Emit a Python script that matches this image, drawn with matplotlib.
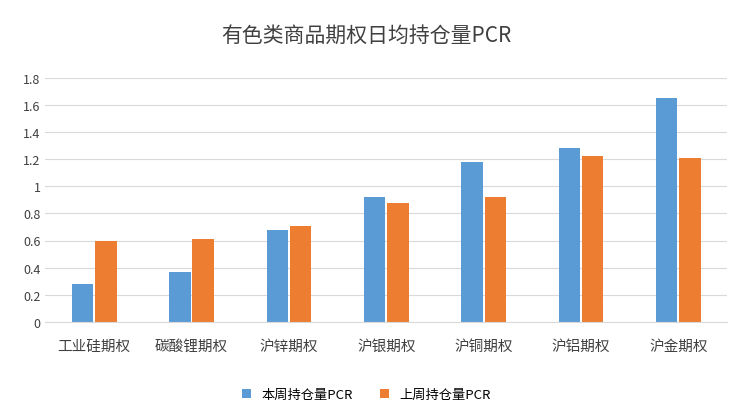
import matplotlib
matplotlib.use("Agg")
import matplotlib.pyplot as plt
import numpy as np

plt.rcParams["font.family"] = ["Noto Sans CJK SC", "DejaVu Sans"]

categories = ["工业硅期权", "碳酸锂期权", "沪锌期权", "沪银期权", "沪铜期权", "沪铝期权", "沪金期权"]
this_week = [0.28, 0.37, 0.68, 0.92, 1.18, 1.28, 1.65]
last_week = [0.60, 0.61, 0.71, 0.88, 0.92, 1.22, 1.21]
yticks = [0, 0.2, 0.4, 0.6, 0.8, 1, 1.2, 1.4, 1.6, 1.8]
ytick_labels = ["0", "0.2", "0.4", "0.6", "0.8", "1", "1.2", "1.4", "1.6", "1.8"]

fig = plt.figure(figsize=(7.33, 4.14), dpi=100)
ax = fig.add_axes([0.062, 0.22, 0.93, 0.59])
x = np.arange(len(categories))
w = 0.22
ax.bar(x - w/2 - 0.01, this_week, w, color="#5B9BD5", label="本周持仓量PCR")
ax.bar(x + w/2 + 0.01, last_week, w, color="#ED7D31", label="上周持仓量PCR")
ax.set_xlim(-0.5, len(categories) - 0.5)
ax.set_ylim(0, 1.8)
ax.set_yticks(yticks)
ax.set_yticklabels(ytick_labels, fontsize=9, color="#404040")
ax.set_xticks(x)
ax.set_xticklabels(categories, fontsize=10.5, color="#404040")
ax.tick_params(length=0, axis="both")
ax.tick_params(axis="x", pad=12)
ax.yaxis.grid(True, color="#D9D9D9", lw=0.8)
ax.set_axisbelow(True)
for s in ["top", "right", "left"]:
    ax.spines[s].set_visible(False)
ax.spines["bottom"].set_color("#D9D9D9")
fig.suptitle("有色类商品期权日均持仓量PCR", y=0.94, fontsize=15, color="#404040")
fig.legend(loc="lower center", ncol=2, frameon=False, fontsize=9.5, bbox_to_anchor=(0.5, 0.0),
           handlelength=0.7, handleheight=0.7, columnspacing=2)
fig.savefig("out.png")
